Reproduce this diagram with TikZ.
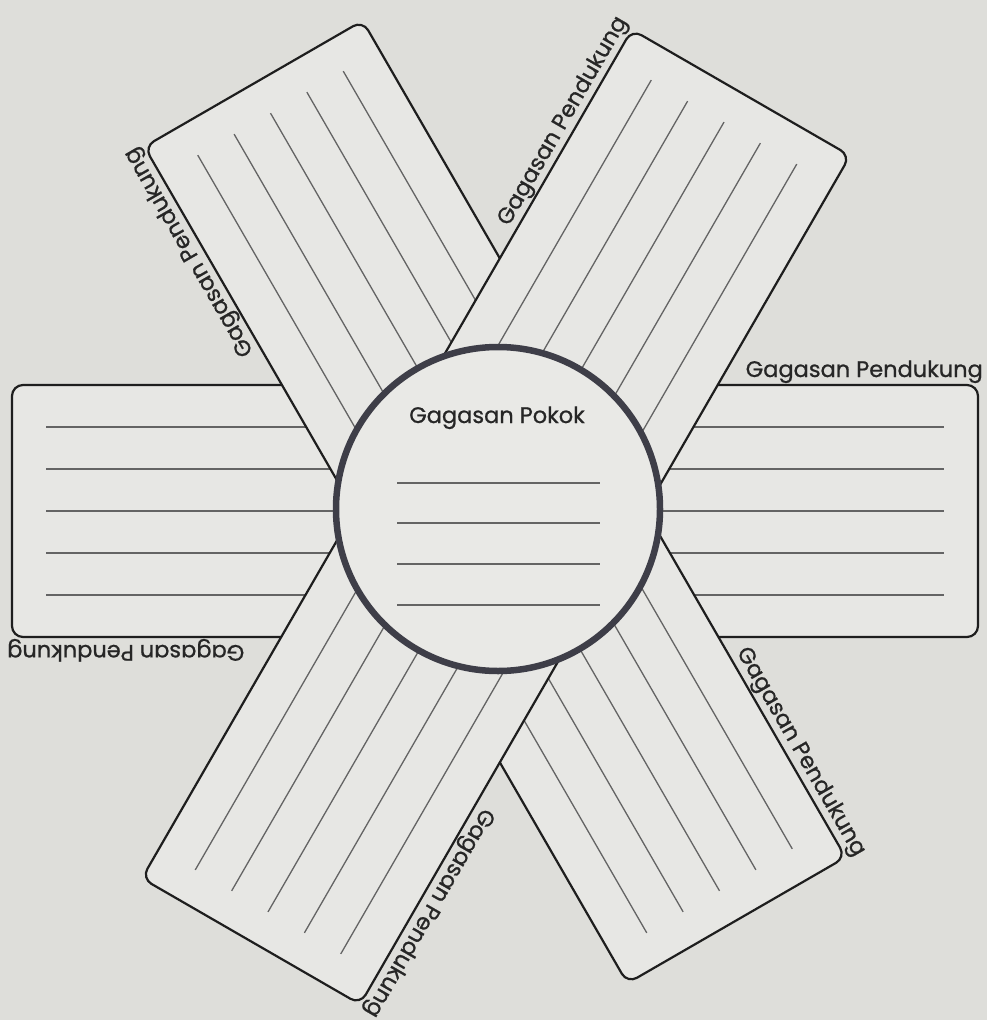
\documentclass[tikz,border=0pt]{standalone}
\usepackage{fontspec}
\setmainfont{Poppins}
\newfontfamily\lblfont{Poppins}[FakeBold=0.8]
\definecolor{bgc}{RGB}{222,222,218}
\definecolor{barc}{RGB}{231,231,228}
\definecolor{circc}{RGB}{233,233,230}
\definecolor{rulec}{RGB}{100,100,100}
\definecolor{edgec}{RGB}{30,30,30}
\definecolor{ringc}{RGB}{62,62,72}
\tikzset{
  barbox/.style={fill=barc, draw=edgec, line width=2.2pt, rounded corners=11pt},
  ruleline/.style={draw=rulec, line width=1.3pt},
  armlabel/.style={font=\lblfont\fontsize{22.5}{22.5}\selectfont, inner sep=0pt, anchor=base east, text=black!85},
}
\newcommand\mybar[4]{%
  \begin{scope}[shift={(#1,#2)}, rotate=#3]
    \path[barbox] (-#4,-126) rectangle (#4,126);
    \foreach \o in {-84,-42,0,42,84} \draw[ruleline] (-#4+34,\o) -- (#4-34,\o);
  \end{scope}}
\newcommand\mylabels[6]{%
  \begin{scope}[shift={(#1,#2)}, rotate=#3]
    \node[armlabel, rotate=#3] (#5) at (#4+5,-134) {Gagasan Pendukung};
    \node[armlabel, rotate=#3+180] (#6) at (-#4-5,134) {Gagasan Pendukung};
  \end{scope}}
\begin{document}
\begin{tikzpicture}[x=1pt,y=-1pt]
  \path[fill=bgc,use as bounding box] (0,0) rectangle (987,1020);
  % three bars: horizontal at bottom, 120 deg in the middle, 60 deg on top
  \mybar{495}{511}{0}{483}
  \mybar{495}{502}{120}{483}
  \mybar{496}{517}{60}{490}
  % central circle
  \node[circle, draw=ringc, line width=6.5pt, fill=circc, minimum size=324pt, inner sep=0pt] (pokok) at (498,509) {};
  \node[font=\lblfont\fontsize{22.5}{22.5}\selectfont, anchor=base, inner sep=0pt, text=black!85] (judul) at (497,423) {Gagasan Pokok};
  \foreach \yy in {483,523,564,605} \draw[ruleline] (397,\yy) -- (600,\yy);
  % labels
  \mylabels{495}{511}{0}{483}{kanan}{kiri}
  \mylabels{495}{502}{120}{483}{kiriatas}{kananbawah}
  \mylabels{496}{517}{60}{490}{kananatas}{kiribawah}
\end{tikzpicture}
\end{document}
